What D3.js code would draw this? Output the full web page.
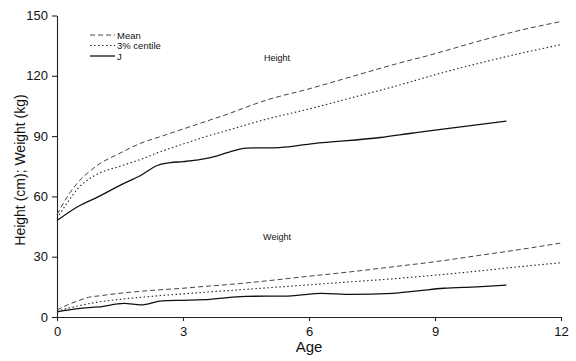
<!DOCTYPE html>
<html>
<head>
<meta charset="utf-8">
<script src="https://cdn.jsdelivr.net/npm/d3@7"></script>
<style>
  body { margin: 0; background: #fff; }
  text { font-family: "Liberation Sans", Arial, sans-serif; fill: #111; }
</style>
</head>
<body>
<div id="chart"></div>
<script>
// ages (years) and values
const meanAges = [0, 0.25, 0.5, 0.75, 1, 1.5, 2, 2.5, 3, 3.5, 4, 5, 6, 7, 8, 9, 10, 11, 12];
const meanHeight = [51, 60, 67, 72, 76, 81.5, 86.5, 90, 93.5, 97, 100.5, 108, 113.5, 119.5, 125.5, 131, 137, 142.5, 147];
const centileHeight = [49, 57, 64, 68.5, 71.5, 75, 78.5, 82.5, 86, 89.5, 92.5, 98.5, 103.5, 109, 114.5, 120.5, 126, 131, 135.5];
const meanWeight = [3.5, 6, 8, 9.8, 10.5, 11.8, 12.8, 13.6, 14.3, 15.2, 16, 18, 20.3, 22.5, 25, 27.5, 30.5, 33.5, 36.8];
const centileWeight = [2.8, 4.3, 5.5, 6.6, 7.5, 8.8, 9.8, 10.7, 11.5, 12.3, 13, 14.5, 16, 17.5, 19, 20.8, 22.8, 25, 27];

const jHeightAges = [0, 0.5, 1, 1.5, 2, 2.4, 2.7, 3, 3.6, 4.1, 4.5, 5.3, 6.1, 7.7, 8.4, 9, 10.7];
const jHeight = [48, 55, 60, 65.5, 70.5, 75.5, 76.8, 77.3, 79, 82, 84, 84.3, 86.3, 89.3, 91.3, 93, 97.5];
const jWeightAges = [0, 0.5, 1, 1.6, 2, 2.5, 3, 3.5, 4.5, 5.5, 6.3, 7, 8, 8.6, 9.2, 10, 10.7];
const jWeight = [2.6, 4.2, 5, 6.8, 6, 8, 8.3, 8.6, 10.3, 10.4, 11.8, 11.3, 11.8, 13, 14.3, 15, 15.9];

const xTicks = [0, 3, 6, 9, 12];
const yTicks = [0, 30, 60, 90, 120, 150];
const legendLabels = ["Mean", "3% centile", "J"];

const W = 576, H = 361;
const margin = { top: 15.5, right: 15, bottom: 44, left: 57 };

const svg = d3.select("#chart").append("svg")
  .attr("width", W)
  .attr("height", H);

const x = d3.scaleLinear().domain([0, 12]).range([margin.left, 561]);
const y = d3.scaleLinear().domain([0, 150]).range([317, margin.top]);

// axes
const xAxis = svg.append("g")
  .attr("transform", "translate(0,317)")
  .call(d3.axisBottom(x).tickValues(xTicks).tickSize(4).tickSizeOuter(0).tickPadding(6));
xAxis.selectAll("text").style("font-size", "13px");

const yAxis = svg.append("g")
  .attr("transform", `translate(${margin.left},0)`)
  .call(d3.axisLeft(y).tickValues(yTicks).tickSize(5).tickSizeOuter(0).tickPadding(4));
yAxis.selectAll("text").style("font-size", "13px");

svg.selectAll(".domain, .tick line").attr("stroke", "#222").attr("stroke-width", 1.1);

// axis titles
svg.append("text")
  .attr("x", x(6))
  .attr("y", 352)
  .attr("text-anchor", "middle")
  .style("font-size", "15px")
  .text("Age");

svg.append("text")
  .attr("transform", "rotate(-90)")
  .attr("x", -170)
  .attr("y", 25)
  .attr("text-anchor", "middle")
  .style("font-size", "14px")
  .text("Height (cm); Weight (kg)");

// series
const styles = [
  { dash: "5,3", width: 1, color: "#444" },
  { dash: "1.5,2.5", width: 1.1, color: "#222" },
  { dash: null, width: 1.3, color: "#111" }
];

const series = [
  { ages: meanAges, vals: meanHeight, s: 0 },
  { ages: meanAges, vals: centileHeight, s: 1 },
  { ages: jHeightAges, vals: jHeight, s: 2 },
  { ages: meanAges, vals: meanWeight, s: 0 },
  { ages: meanAges, vals: centileWeight, s: 1 },
  { ages: jWeightAges, vals: jWeight, s: 2 }
];

const line = d3.line()
  .x(d => x(d[0]))
  .y(d => y(d[1]))
  .curve(d3.curveMonotoneX);

series.forEach(sr => {
  const st = styles[sr.s];
  svg.append("path")
    .datum(sr.ages.map((a, i) => [a, sr.vals[i]]))
    .attr("fill", "none")
    .attr("stroke", st.color)
    .attr("stroke-width", st.width)
    .attr("stroke-dasharray", st.dash)
    .attr("d", line);
});

// group labels
svg.append("text").attr("x", 277).attr("y", 61)
  .attr("text-anchor", "middle").style("font-size", "9px").text("Height");
svg.append("text").attr("x", 277).attr("y", 240)
  .attr("text-anchor", "middle").style("font-size", "9px").text("Weight");

// legend
const legend = svg.append("g");
legendLabels.forEach((lab, i) => {
  const ly = 35 + i * 10.5;
  const st = styles[i];
  legend.append("line")
    .attr("x1", 90).attr("x2", 115)
    .attr("y1", ly).attr("y2", ly)
    .attr("stroke", st.color)
    .attr("stroke-width", st.width)
    .attr("stroke-dasharray", st.dash);
  legend.append("text")
    .attr("x", 117)
    .attr("y", ly + 3.5)
    .style("font-size", "9.5px")
    .text(lab);
});
</script>
</body>
</html>
